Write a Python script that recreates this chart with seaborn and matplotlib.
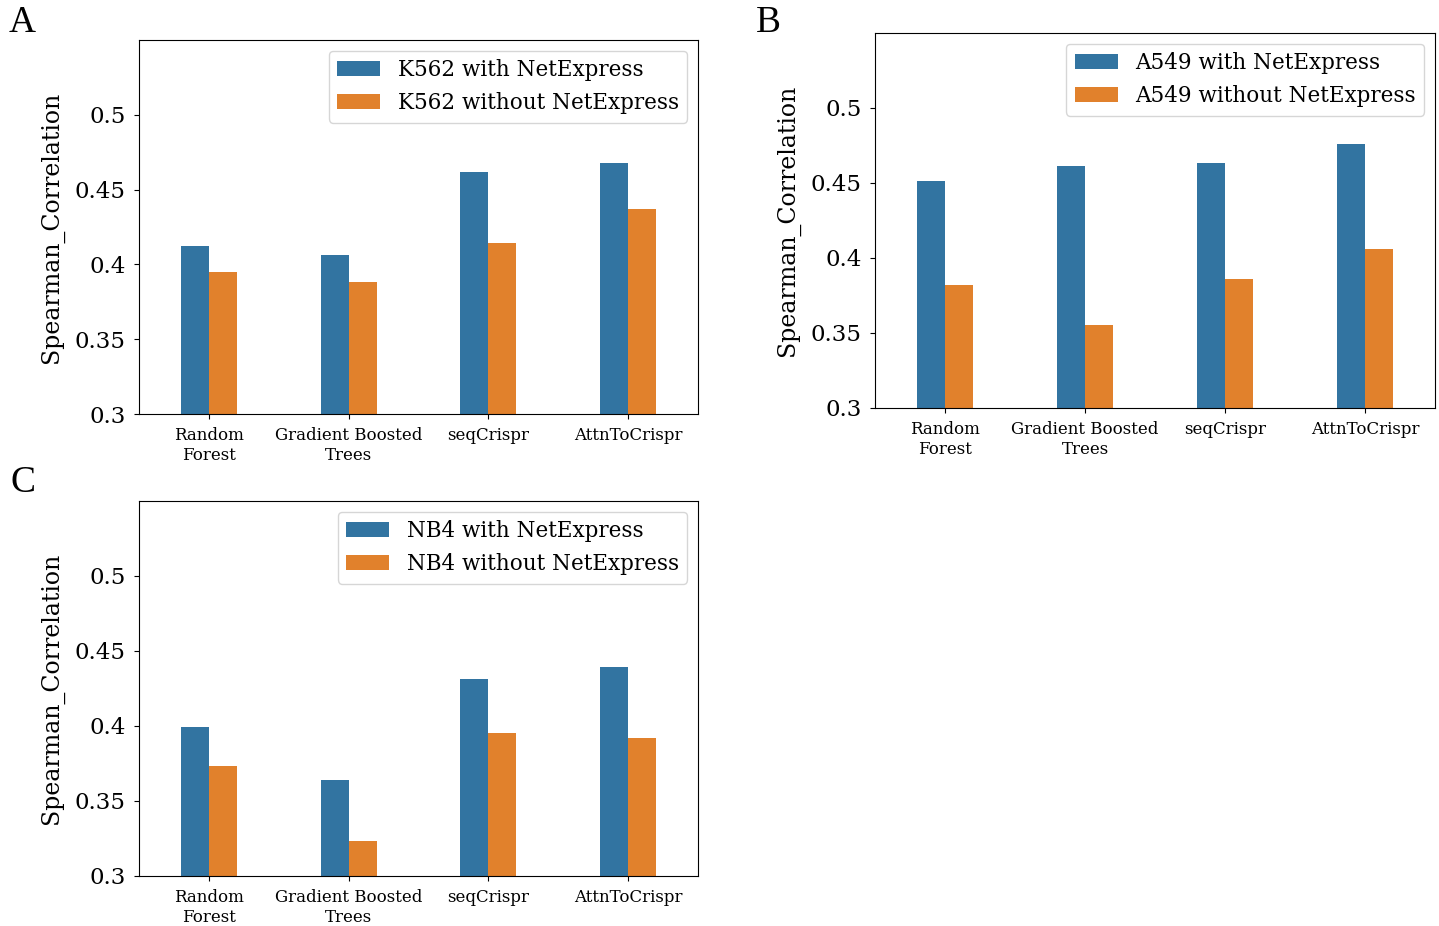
import matplotlib
matplotlib.use("Agg")
import matplotlib.pyplot as plt
import seaborn as sns
import pandas as pd

# ---- data ----
models = ["Random\nForest", "Gradient Boosted\nTrees", "seqCrispr", "AttnToCrispr"]
k562_with = [0.412, 0.406, 0.462, 0.468]
k562_without = [0.395, 0.388, 0.414, 0.437]
a549_with = [0.451, 0.461, 0.463, 0.476]
a549_without = [0.382, 0.355, 0.386, 0.406]
nb4_with = [0.399, 0.364, 0.431, 0.439]
nb4_without = [0.373, 0.323, 0.395, 0.392]
yticks = [0.3, 0.35, 0.4, 0.45, 0.5]
ytick_labels = ["0.3", "0.35", "0.4", "0.45", "0.5"]
panels = [
    ("A", "K562", k562_with, k562_without),
    ("B", "A549", a549_with, a549_without),
    ("C", "NB4", nb4_with, nb4_without),
]

plt.rcParams["font.family"] = ["DejaVu Serif"]

fig = plt.figure(figsize=(14.39, 9.26), dpi=100)
positions = [
    [0.0966, 0.5529, 0.3885, 0.4039],
    [0.6081, 0.5594, 0.3891, 0.4050],
    [0.0966, 0.0540, 0.3885, 0.4050],
]
letter_pos = [(0.006, 0.965), (0.525, 0.965), (0.007, 0.469)]

for (letter, cell, w, wo), pos, lp in zip(panels, positions, letter_pos):
    ax = fig.add_axes(pos)
    df = pd.DataFrame({
        "model": models * 2,
        "value": w + wo,
        "group": [f"{cell} with NetExpress"] * 4 + [f"{cell} without NetExpress"] * 4,
    })
    sns.barplot(data=df, x="model", y="value", hue="group", palette="tab10",
                width=0.4, ax=ax)
    ax.set_ylim(0.3, 0.55)
    ax.set_xlim(-0.5, 3.5)
    ax.set_yticks(yticks)
    ax.set_yticklabels(ytick_labels, fontsize=16.5)
    ax.tick_params(axis="y", pad=6)
    ax.tick_params(axis="x", labelsize=12, pad=6)
    ax.set_xlabel("")
    ax.set_ylabel("Spearman_Correlation", fontsize=17, labelpad=8)
    ax.legend(loc="upper right", fontsize=15.5, title=None)
    fig.text(lp[0], lp[1], letter, family="Liberation Serif", fontsize=27,
             va="baseline", ha="left")

fig.savefig("out.png", dpi=100)
